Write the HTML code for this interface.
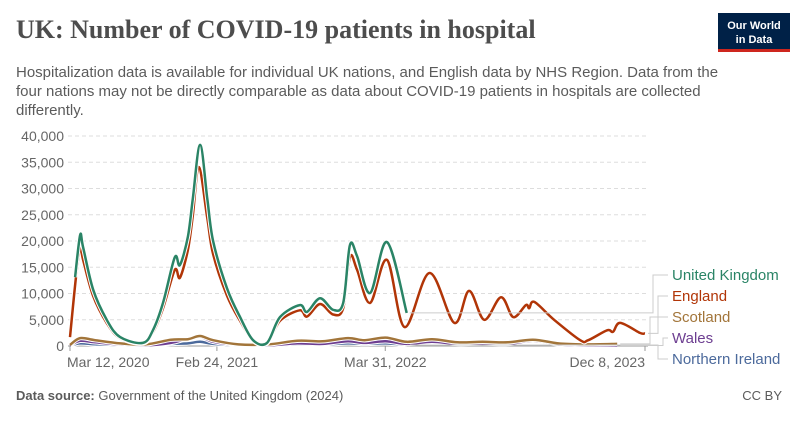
<!DOCTYPE html>
<html><head><meta charset="utf-8"><style>
body{margin:0;background:#fff;width:800px;height:418px;overflow:hidden;font-family:"Liberation Sans",sans-serif}
</style></head><body>
<svg id="chart" width="800" height="418" xmlns="http://www.w3.org/2000/svg">
<text x="16" y="38" font-family="Liberation Serif,serif" font-weight="bold" font-size="26" fill="#4d4d4d">UK: Number of COVID-19 patients in hospital</text>
<g>
<rect x="718" y="13" width="72" height="39" fill="#002147"/>
<rect x="718" y="49" width="72" height="3" fill="#ce261e"/>
<text x="754" y="29" text-anchor="middle" font-size="11" font-weight="bold" fill="#fff">Our World</text>
<text x="754" y="43" text-anchor="middle" font-size="11" font-weight="bold" fill="#fff">in Data</text>
</g>
<g font-size="15" fill="#5b5b5b">
<text x="16" y="77">Hospitalization data is available for individual UK nations, and English data by NHS Region. Data from the</text>
<text x="16" y="96">four nations may not be directly comparable as data about COVID-19 patients in hospitals are collected</text>
<text x="16" y="115">differently.</text>
</g>
<g id="grid"></g><g id="series"></g><g id="legend"></g>
<text x="16" y="400" font-size="13" fill="#5b5b5b"><tspan font-weight="bold">Data source:</tspan> Government of the United Kingdom (2024)</text>
<text x="782" y="400" text-anchor="end" font-size="13" fill="#5b5b5b">CC BY</text>
</svg>
<script>
const engDays=[0,14,24,31,55,88,119,173,197,221,249,261,280,292,306,326,340,373,404,435,468,499,546,563,594,625,649,665,682,713,753,795,854,913,948,984,1024,1053,1083,1091,1103,1150,1212,1231,1276,1290,1307,1354,1366];
const engVals=[1.7,13,18.9,16.5,9.5,4.3,1.5,0.5,2.6,7.2,14.5,13,18.3,25,34.1,24.5,17.5,9.6,4.8,1,0.5,4.8,6.8,5.6,8,6,7.2,17,14.5,8.2,16.4,3.6,13.9,4.4,10.5,5,9.3,5.5,7.8,7.2,8.4,5,1.1,1.1,3,2.7,4.4,2.5,2.4];
const ukDays=[12,24,31,55,88,119,173,197,221,249,261,280,292,309,326,340,373,404,435,468,499,546,563,594,625,649,665,682,713,753,800];
const ukVals=[13.1,21.1,18.9,10.7,4.9,1.7,0.6,3,8.2,16.9,15.4,20.8,28.2,38.3,28.2,20,11,5.5,1.1,0.6,5.5,7.8,6.5,9.1,6.9,8.2,19.2,17.1,10.1,19.8,6.3];
const smallDays=[0,24,60,120,180,240,280,309,340,400,470,540,600,660,700,750,800,860,920,980,1040,1100,1160,1220,1300];
const scotVals=[0.2,1.5,1.1,0.5,0.3,1.2,1.3,1.9,1.1,0.3,0.3,1,0.9,1.5,1.1,1.6,0.8,1.3,0.7,0.8,0.7,1.2,0.5,0.3,0.4];
const walesVals=[0.1,1,0.7,0.3,0.1,0.6,1.4,1.8,0.8,0.2,0.1,0.5,0.4,0.9,0.6,0.9,0.4,0.8,0.4,0.5,0.4,1,0.3,0.1,0.1];
const niVals=[0.05,0.5,0.35,0.15,0.1,0.4,0.5,0.8,0.4,0.1,0.05,0.3,0.3,0.5,0.4,0.5,0.2,null,null,null,null,null,null,null,null];
const yTicks=[0,5000,10000,15000,20000,25000,30000,35000,40000];
const xTickDays=[0,349,749,1366];
const xTickLabels=["Mar 12, 2020","Feb 24, 2021","Mar 31, 2022","Dec 8, 2023"];
const names=["United Kingdom","England","Scotland","Wales","Northern Ireland"];
const colors=["#2a8466","#b13507","#a2753a","#6d3e91","#4c6a9c"];
const NS="http://www.w3.org/2000/svg";
const X0=70,X1=645,Y0=346,Y1=136;
const x=d=>X0+d/1366*(X1-X0);
const y=v=>Y0-v/40000*(Y0-Y1);
function mk(t,a,p){const e=document.createElementNS(NS,t);for(const k in a)e.setAttribute(k,a[k]);p.appendChild(e);return e;}
const g=document.getElementById('grid');
yTicks.forEach(v=>{
 const l=mk('line',{x1:X0-2,x2:648,y1:y(v),y2:y(v),stroke:v?'#ddd':'#999','stroke-dasharray':v?'4,3':''},g);
 
 
 const t=mk('text',{x:64,y:y(v)+5,'text-anchor':'end','font-size':14,fill:'#666'},g);
 t.textContent=v.toLocaleString('en-US');
 
 
});
xTickDays.forEach((d,i)=>{
 mk('line',{x1:x(d),x2:x(d),y1:Y0,y2:Y0+5,stroke:'#999'},g);
 const anchor=i==0?'start':(i==3?'end':'middle');
 const t=mk('text',{x:i==0?x(d)-3:x(d),y:Y0+21,'text-anchor':anchor,'font-size':14,fill:'#666'},g);
 t.textContent=xTickLabels[i];
 
 
});
function smooth(pts){
 let d='M'+pts[0][0].toFixed(1)+','+pts[0][1].toFixed(1);
 for(let i=0;i<pts.length-1;i++){
  const p0=pts[i-1]||pts[i],p1=pts[i],p2=pts[i+1],p3=pts[i+2]||p2;
  const c1=[p1[0]+(p2[0]-p0[0])/6,p1[1]+(p2[1]-p0[1])/6],c2=[p2[0]-(p3[0]-p1[0])/6,p2[1]-(p3[1]-p1[1])/6];
  d+=`C${c1[0].toFixed(1)},${c1[1].toFixed(1)} ${c2[0].toFixed(1)},${c2[1].toFixed(1)} ${p2[0].toFixed(1)},${p2[1].toFixed(1)}`;
 }
 return d;
}
const sg=document.getElementById('series');
const series=[[smallDays,niVals,4],[smallDays,walesVals,3],[smallDays,scotVals,2],[engDays,engVals,1],[ukDays,ukVals,0]];
const ends=[];
series.forEach(([ds,vs,c])=>{
 const pts=[];
 vs.forEach((v,i)=>{if(v!=null)pts.push([x(ds[i]),Math.min(Y0,y(v*1000))]);});
 const d=smooth(pts);
 mk('path',{d:d,fill:'none',stroke:'#fff','stroke-width':4.5,'stroke-linejoin':'round'},sg);
 const p=mk('path',{d:d,fill:'none',stroke:colors[c],'stroke-width':2.5,'stroke-linejoin':'round'},sg);
 
 
 ends[c]=pts[pts.length-1];
});
const lg=document.getElementById('legend');
const ly=[280,301,322,343,364];
names.forEach((n,i)=>{
 const bx=[653,658,650,663,658][i];
 const e=ends[i];
 mk('path',{d:`M${e[0]+3},${e[1]}H${bx}V${ly[i]-5}H${668}`,fill:'none',stroke:'#ccc','stroke-width':1},lg);
 const t=mk('text',{x:672,y:ly[i],'font-size':15,fill:colors[i]},lg);
 t.textContent=n;
 
 
});
</script>
</body></html>
